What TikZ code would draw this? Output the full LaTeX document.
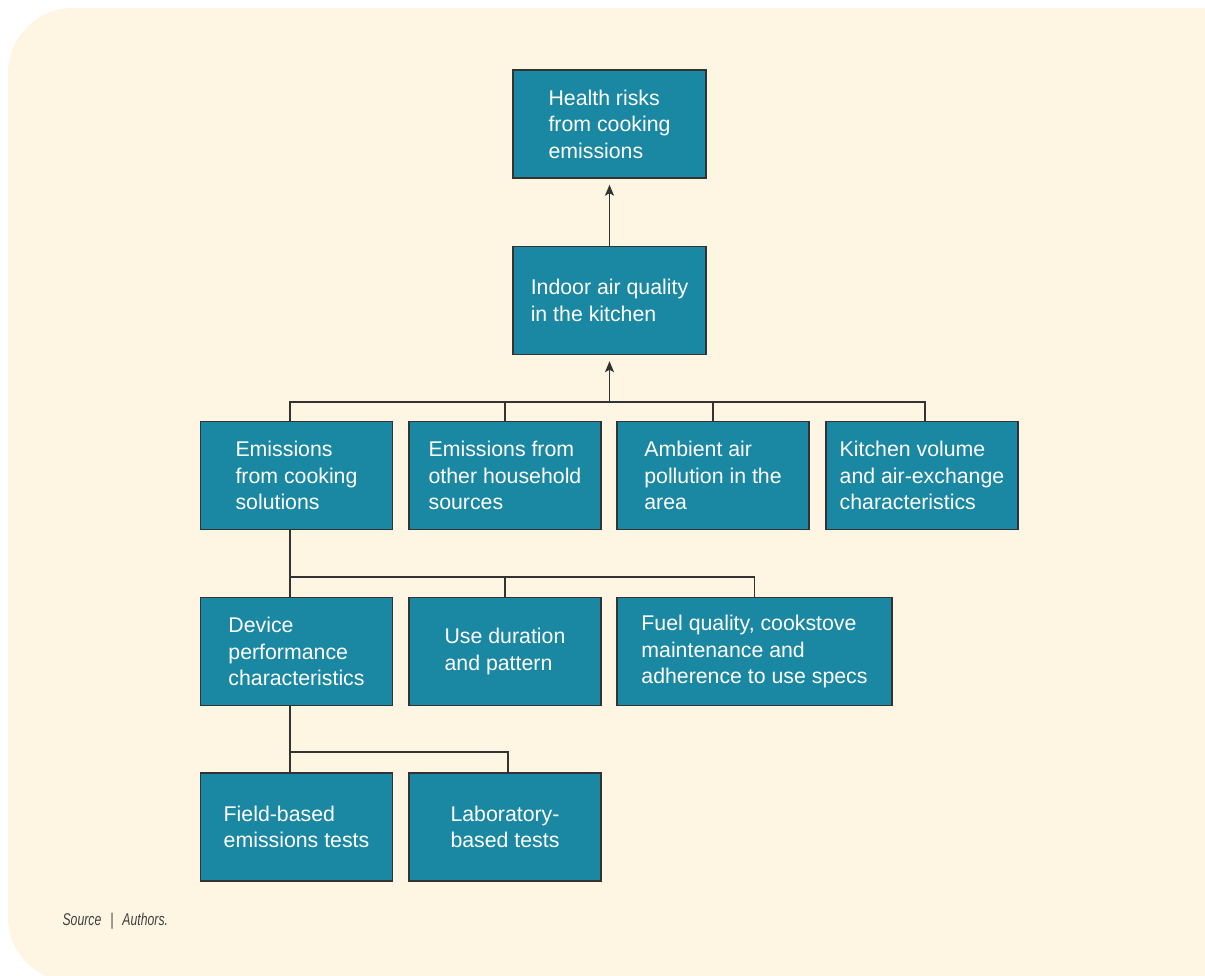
\documentclass[tikz,border=0pt]{standalone}
\usepackage{fontspec}
\setmainfont{Liberation Sans}
\newfontfamily\srcfont[FakeStretch=0.72]{Liberation Sans}
\usetikzlibrary{arrows.meta}
\definecolor{bgcream}{HTML}{FEF5E3}
\definecolor{boxteal}{HTML}{1A87A3}
\definecolor{lineink}{HTML}{333333}
\definecolor{srcgray}{HTML}{404040}

\begin{document}
\begin{tikzpicture}[x=1pt,y=-1pt,
  box/.style={draw=lineink,line width=1.4pt,fill=boxteal,text=white,minimum width=192pt,minimum height=108pt,inner sep=0pt,align=left,font=\fontsize{21.3}{26.5}\selectfont},
  link/.style={lineink,line width=1.3pt},
  arr/.style={link,-{Stealth[length=11pt,width=9pt,inset=2.5pt]},shorten >=6pt}
]
\useasboundingbox (0,0) rectangle (1205,976);
\fill[bgcream,rounded corners=65pt] (1320,8) -- (8,8) -- (8,982) -- (1320,982) -- cycle;

\node[box,minimum width=193pt] (health) at (609.5,124) {Health risks\\from cooking\\emissions};
\node[box,minimum width=193pt] (air) at (609.5,300.5) {Indoor air quality\\in the kitchen};

\node[box] (cook) at (296.5,475.5) {Emissions\\from cooking\\solutions};
\node[box] (house) at (505,475.5) {Emissions from\\other household\\sources};
\node[box] (amb) at (713,475.5) {Ambient air\\pollution in the\\area};
\node[box] (kit) at (922,475.5) {Kitchen volume\\and air-exchange\\characteristics};

\node[box] (dev) at (296.5,651.5) {Device\\performance\\characteristics};
\node[box] (use) at (505,651.5) {Use duration\\and pattern};
\node[box,minimum width=275pt] (fuel) at (754.5,651.5) {Fuel quality, cookstove\\maintenance and\\adherence to use specs};

\node[box] (field) at (296.5,827) {Field-based\\emissions tests};
\node[box] (lab) at (505,827) {Laboratory-\\based tests};

\node[anchor=base west,text=srcgray,font=\srcfont\itshape\fontsize{17}{20}\selectfont] (src) at (59,925) {Source\hspace{9pt}|\hspace{9pt}Authors.};

\coordinate (busA) at (290,402);
\coordinate (busB) at (290,577);
\coordinate (busC) at (290,752);

\draw[arr] (air.north) -- (health.south);
\draw[arr] (air.south |- busA) -- (air.south);
\draw[link] (cook.north -| busA) -- (busA) -| ([xshift=3pt]kit.north);
\draw[link] (house.north) -- (house.north |- busA);
\draw[link] (amb.north) -- (amb.north |- busA);

\draw[link] (cook.south -| busB) -- (dev.north -| busB);
\draw[link] (busB) -| (fuel.north);
\draw[link] (use.north) -- (use.north |- busB);

\draw[link] (dev.south -| busC) -- (field.north -| busC);
\draw[link] (busC) -| ([xshift=3pt]lab.north);
\end{tikzpicture}
\end{document}
